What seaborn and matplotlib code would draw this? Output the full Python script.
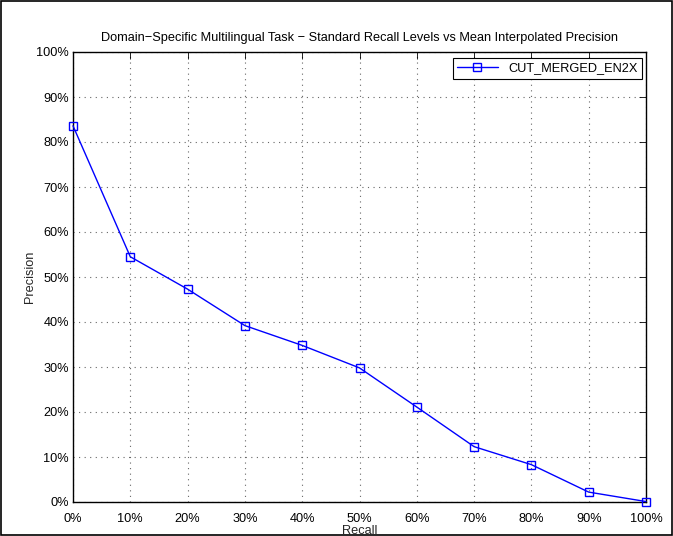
import numpy as np
import pandas as pd
import seaborn as sns
import matplotlib.pyplot as plt
from matplotlib.patches import Rectangle
from matplotlib.ticker import FuncFormatter, MultipleLocator

# Standard recall levels and mean interpolated precision (%)
recall = [0, 10, 20, 30, 40, 50, 60, 70, 80, 90, 100]
precision = [83.6, 54.5, 47.3, 39.2, 34.8, 29.8, 21.1, 12.3, 8.3, 2.2, 0.1]
run_name = "CUT_MERGED_EN2X"


def set_matlab_style():
    sns.set_theme(style="white")
    plt.rcParams.update({
        "font.family": ["Liberation Sans", "DejaVu Sans"],
        "font.size": 9.2,
        "axes.titlesize": 9.2,
        "axes.labelsize": 9.2,
        "xtick.labelsize": 9.2,
        "ytick.labelsize": 9.2,
        "legend.fontsize": 9.2,
        "axes.edgecolor": "black",
        "axes.linewidth": 1.0,
        "xtick.direction": "in",
        "ytick.direction": "in",
        "xtick.top": True,
        "ytick.right": True,
        "xtick.major.size": 5,
        "ytick.major.size": 5,
        "xtick.major.width": 0.6,
        "ytick.major.width": 0.6,
        "text.color": "black",
        "xtick.color": "black",
        "ytick.color": "black",
    })


set_matlab_style()

df = pd.DataFrame({"Recall": recall, "Precision": precision, "Run": run_name})

fig = plt.figure(figsize=(6.73, 5.36), dpi=100)
ax = fig.add_axes([73 / 673, 1 - 502 / 536, (646 - 73) / 673, (502 - 52) / 536])

sns.lineplot(
    data=df,
    x="Recall",
    y="Precision",
    hue="Run",
    palette=["#0000ff"],
    marker="s",
    markersize=6,
    markerfacecolor="none",
    markeredgecolor="#0000ff",
    markeredgewidth=1.0,
    linewidth=1.0,
    ax=ax,
    clip_on=False,
    zorder=3,
)

ax.set_xlim(0, 100)
ax.set_ylim(0, 100)
ax.xaxis.set_major_locator(MultipleLocator(10))
ax.yaxis.set_major_locator(MultipleLocator(10))
pct = FuncFormatter(lambda v, _: f"{v:.0f}%")
ax.xaxis.set_major_formatter(pct)
ax.yaxis.set_major_formatter(pct)
ax.tick_params(axis="x", pad=8)
ax.tick_params(axis="y", pad=3)
ax.grid(True, linestyle=(0, (1, 4)), color="#666666", linewidth=0.8)

ax.set_title("Domain\u2212Specific Multilingual Task \u2212 Standard Recall Levels vs Mean Interpolated Precision", pad=8)
ax.set_xlabel("Recall", labelpad=0)
ax.set_ylabel("Precision", labelpad=0)

leg = ax.legend(
    loc="upper right",
    bbox_to_anchor=(0.993, 0.987),
    frameon=True,
    fancybox=False,
    edgecolor="black",
    framealpha=1,
    handlelength=3.2,
    borderpad=0.35,
    borderaxespad=0,
)
leg.get_frame().set_linewidth(0.8)

fig.patches.append(Rectangle((0.002, 0.002), 0.996, 0.996, transform=fig.transFigure,
                             fill=False, edgecolor="black", linewidth=1.2))

fig.savefig("out.png", dpi=100)
plt.close(fig)
